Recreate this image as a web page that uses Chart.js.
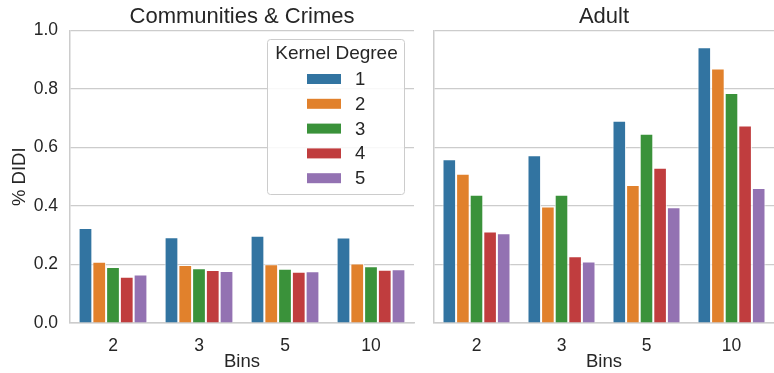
<!DOCTYPE html>
<html>
<head>
<meta charset="utf-8">
<script src="https://cdn.jsdelivr.net/npm/chart.js@4/dist/chart.umd.min.js"></script>
<style>
  html, body { margin: 0; padding: 0; background: #fff; }
  #wrap { position: relative; width: 774px; height: 373px; }
  #left { position: absolute; left: 0; top: 0; }
  #right { position: absolute; left: 424px; top: 0; }
</style>
</head>
<body>
<div id="wrap">
  <canvas id="left" width="424" height="373"></canvas>
  <canvas id="right" width="350" height="373"></canvas>
</div>
<script>
const bins = ['2', '3', '5', '10'];
const degrees = ['1', '2', '3', '4', '5'];
const colors = ['#3274a1', '#e1812c', '#3a923a', '#c03d3e', '#9372b2'];

// % DIDI per kernel degree, one value per bin
const crimes1 = [0.325, 0.293, 0.298, 0.292];
const crimes2 = [0.209, 0.198, 0.201, 0.203];
const crimes3 = [0.191, 0.187, 0.185, 0.194];
const crimes4 = [0.158, 0.181, 0.175, 0.182];
const crimes5 = [0.166, 0.178, 0.177, 0.184];

const adult1 = [0.560, 0.573, 0.691, 0.942];
const adult2 = [0.510, 0.398, 0.472, 0.870];
const adult3 = [0.438, 0.438, 0.647, 0.786];
const adult4 = [0.313, 0.228, 0.531, 0.675];
const adult5 = [0.307, 0.210, 0.396, 0.461];

const yTicks = [0, 0.2, 0.4, 0.6, 0.8, 1.0];

const FONT = "'Liberation Sans', Arial, sans-serif";
const TEXT = '#262626';
const GRID = '#cccccc';

function makeDatasets(series) {
    return series.map((vals, i) => ({
        label: degrees[i],
        data: vals,
        backgroundColor: colors[i],
        borderColor: 'rgba(255,255,255,0.85)',
        borderWidth: 1,
        categoryPercentage: 0.8,
        barPercentage: 1.0
    }));
}

const legendPlugin = {
    id: 'kernelLegend',
    afterDraw(chart) {
        const ctx = chart.ctx;
        ctx.save();
        const x0 = 267, y0 = 39, w = 137, h = 155;
        ctx.beginPath();
        ctx.roundRect(x0 + 0.5, y0 + 0.5, w, h, 3);
        ctx.fillStyle = 'rgba(255,255,255,0.85)';
        ctx.fill();
        ctx.strokeStyle = GRID;
        ctx.lineWidth = 1;
        ctx.stroke();
        ctx.fillStyle = TEXT;
        ctx.font = '19px ' + FONT;
        ctx.textAlign = 'center';
        ctx.textBaseline = 'middle';
        ctx.fillText('Kernel Degree', x0 + w / 2 + 1, 54);
        ctx.textAlign = 'left';
        ctx.font = '18.5px ' + FONT;
        chart.data.datasets.forEach((ds, i) => {
            const cy = 79 + i * 24.8;
            ctx.fillStyle = ds.backgroundColor;
            ctx.fillRect(307, cy - 5, 34, 10);
            ctx.fillStyle = TEXT;
            ctx.fillText(ds.label, 355, cy + 1);
        });
        ctx.restore();
    }
};

function makeChart(id, title, series, showY, plugins, padRight) {
    return new Chart(document.getElementById(id), {
        type: 'bar',
        data: { labels: bins, datasets: makeDatasets(series) },
        options: {
            responsive: false,
            animation: false,
            layout: { padding: { left: 0, right: padRight, top: 0, bottom: 0 } },
            plugins: {
                legend: { display: false },
                tooltip: { enabled: false },
                title: {
                    display: true,
                    fullSize: false,
                    text: title,
                    color: TEXT,
                    font: { family: FONT, size: 22, weight: 'normal' },
                    padding: { top: 4, bottom: 0 }
                }
            },
            scales: {
                x: {
                    grid: { display: false },
                    border: { display: true, color: GRID, width: 1.5 },
                    ticks: { color: TEXT, font: { family: FONT, size: 17.5 }, padding: 5 },
                    title: {
                        display: true, text: 'Bins', color: TEXT,
                        font: { family: FONT, size: 18.5 }, padding: { top: 0, bottom: 0 }
                    },
                    afterFit: s => { s.height = 50; }
                },
                y: {
                    min: 0,
                    max: 1.0,
                    afterBuildTicks: s => { s.ticks = yTicks.map(v => ({ value: v })); },
                    grid: { color: GRID, lineWidth: 1.2, drawTicks: false },
                    border: { display: true, color: GRID, width: 1.5 },
                    ticks: {
                        display: showY,
                        color: TEXT,
                        font: { family: FONT, size: 17.5 },
                        padding: 12,
                        callback: v => v.toFixed(1)
                    },
                    title: {
                        display: showY, text: '% DIDI', color: TEXT,
                        font: { family: FONT, size: 18.5 }, padding: { top: 9, bottom: 0 }
                    },
                    afterFit: s => { s.width = showY ? 70 : 10; }
                }
            }
        },
        plugins: plugins
    });
}

makeChart('left', 'Communities & Crimes',
    [crimes1, crimes2, crimes3, crimes4, crimes5], true, [legendPlugin], 10);
makeChart('right', 'Adult',
    [adult1, adult2, adult3, adult4, adult5], false, [], 0);
</script>
</body>
</html>
